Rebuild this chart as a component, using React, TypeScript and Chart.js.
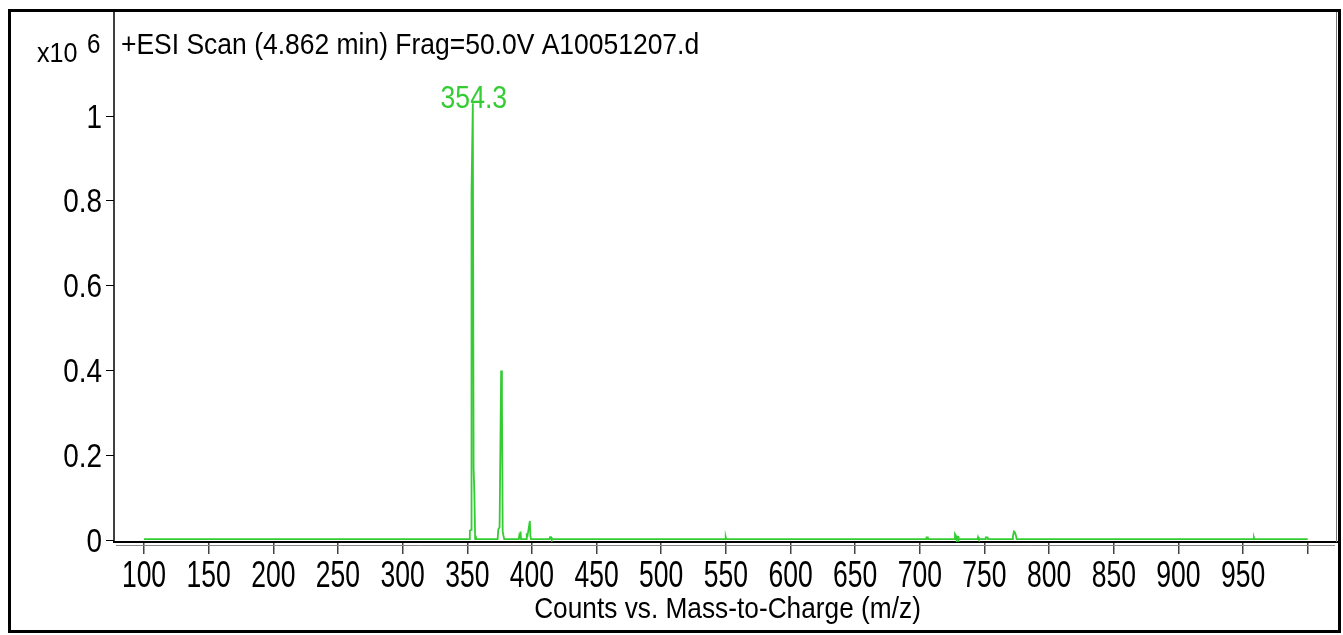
import React, { useEffect, useRef } from "react";
import { Chart, registerables } from "chart.js";

Chart.register(...registerables);

// m/z values and intensities (x10^6)
const mzValues: number[] = [
  100, 351.6, 352.0, 352.9, 353.3, 354.3, 354.9, 355.5, 356.1, 356.5, 357.0,
  373.5, 374.0, 375.0, 376.2, 376.8, 377.4, 378.0, 378.6,
  389.8, 390.2, 390.8, 391.2, 391.6, 395.6, 396.0, 396.6, 398.4, 398.8, 399.3,
  413.6, 414.0, 414.8, 415.2,
  549.6, 549.9, 550.3,
  704.8, 705.2, 706.2, 706.6,
  726.8, 727.2, 728.0, 728.6, 729.0, 729.6, 730.0,
  744.6, 745.0, 745.6, 750.6, 751.0, 752.4, 752.8,
  771.4, 772.0, 772.8, 773.5, 774.2, 774.9, 775.3,
  958.0, 958.4, 958.8,
  1000,
];
const intensityValues: number[] = [
  0.002, 0.002, 0.022, 0.024, 0.82, 1.03, 0.17, 0.11, 0.002, 0.01, 0.002,
  0.002, 0.025, 0.03, 0.4, 0.33, 0.02, 0.01, 0.002,
  0.002, 0.01, 0.004, 0.02, 0.002, 0.002, 0.012, 0.01, 0.045, 0.01, 0.002,
  0.002, 0.007, 0.007, 0.002,
  0.002, 0.007, 0.002,
  0.002, 0.006, 0.006, 0.002,
  0.002, 0.014, 0.01, 0.002, 0.008, 0.008, 0.002,
  0.002, 0.007, 0.002, 0.002, 0.006, 0.006, 0.002,
  0.002, 0.008, 0.02, 0.018, 0.012, 0.002, 0.002,
  0.002, 0.006, 0.002,
  0.002,
];

const xTickValues: number[] = [100, 150, 200, 250, 300, 350, 400, 450, 500, 550, 600, 650, 700, 750, 800, 850, 900, 950, 1000];
const xTickLabels: string[] = ["100", "150", "200", "250", "300", "350", "400", "450", "500", "550", "600", "650", "700", "750", "800", "850", "900", "950", ""];
const yTickValues: number[] = [0, 0.2, 0.4, 0.6, 0.8, 1];
const yTickLabels: string[] = ["0", "0.2", "0.4", "0.6", "0.8", "1"];

const titleText = "+ESI Scan (4.862 min) Frag=50.0V A10051207.d";
const xAxisTitle = "Counts vs. Mass-to-Charge (m/z)";
const peakLabel = "354.3";
const peakMz = 354.3;
const peakIntensity = 1.03;

const FONT = "'Liberation Sans', Arial, sans-serif";
const GREEN = "#33cc33";

// horizontal compression factor so that `sample` has ink width `inkW` at `size`
function fitK(ctx: CanvasRenderingContext2D, sample: string, size: number, inkW: number) {
  ctx.font = `${size}px ${FONT}`;
  const m = ctx.measureText(sample);
  const w = m.actualBoundingBoxLeft + m.actualBoundingBoxRight;
  return w > 0 ? inkW / w : 1;
}

function drawNarrow(
  ctx: CanvasRenderingContext2D,
  text: string,
  x: number,
  y: number,
  size: number,
  k: number,
  align: CanvasTextAlign,
  baseline: CanvasTextBaseline = "alphabetic",
) {
  ctx.save();
  ctx.font = `${size}px ${FONT}`;
  ctx.textAlign = align;
  ctx.textBaseline = baseline;
  ctx.translate(x, y);
  ctx.scale(k, 1);
  ctx.fillText(text, 0, 0);
  ctx.restore();
}

const decorPlugin = {
  id: "decor",
  afterDraw(chart: any) {
    const ctx = chart.ctx as CanvasRenderingContext2D;
    const ca = chart.chartArea;
    const xs = chart.scales.x;
    const ys = chart.scales.y;
    ctx.save();
    // outer frame
    ctx.strokeStyle = "#000";
    ctx.lineWidth = 3;
    ctx.strokeRect(9.5, 10.5, 1330, 621);
    // plot frame left
    ctx.lineWidth = 1.5;
    ctx.beginPath();
    ctx.moveTo(ca.left, 11);
    ctx.lineTo(ca.left, ca.bottom);
    ctx.stroke();
    // inner right line
    ctx.strokeStyle = "#777";
    ctx.lineWidth = 1;
    ctx.beginPath();
    ctx.moveTo(ca.right - 1.5, 12);
    ctx.lineTo(ca.right - 1.5, ca.bottom);
    ctx.stroke();
    // secondary gray axis line
    ctx.strokeStyle = "#888";
    ctx.beginPath();
    ctx.moveTo(ca.left + 2, ca.bottom + 3.5);
    ctx.lineTo(ca.right - 3, ca.bottom + 3.5);
    ctx.stroke();

    ctx.fillStyle = "#000";
    // x tick labels
    const kx = fitK(ctx, "100", 36, 42);
    xTickValues.forEach((v, i) => {
      const lbl = xTickLabels[i];
      if (!lbl) return;
      drawNarrow(ctx, lbl, xs.getPixelForValue(v), 587, 36, kx, "center");
    });
    // y tick labels
    const ky = fitK(ctx, "0.8", 32.5, 37);
    yTickValues.forEach((v, i) => {
      drawNarrow(ctx, yTickLabels[i], 102, ys.getPixelForValue(v) + 11.5, 32.5, ky, "right");
    });

    // title
    const kt = fitK(ctx, titleText, 29.5, 576);
    drawNarrow(ctx, titleText, 121, 54, 29.5, kt, "left");
    // x10^6
    const kx10 = fitK(ctx, "x10", 28, 40);
    drawNarrow(ctx, "x10", 37, 62, 28, kx10, "left");
    drawNarrow(ctx, "6", 87, 53, 27, kx10, "left");
    // x axis title
    const ka = fitK(ctx, xAxisTitle, 30, 385);
    drawNarrow(ctx, xAxisTitle, 727.5, 618, 30, ka, "center");

    // peak label
    ctx.fillStyle = GREEN;
    const kp = fitK(ctx, peakLabel, 32, 65);
    drawNarrow(ctx, peakLabel, xs.getPixelForValue(peakMz) + 1, ys.getPixelForValue(peakIntensity) + 5, 32, kp, "center");
    ctx.restore();
  },
};

export default function App() {
  const ref = useRef<HTMLCanvasElement>(null);
  useEffect(() => {
    if (!ref.current) return;
    const points = mzValues.map((x, i) => ({ x, y: intensityValues[i] }));
    const chart = new Chart(ref.current, {
      type: "line",
      data: {
        datasets: [
          {
            data: points,
            borderColor: GREEN,
            borderWidth: 1.8,
            pointRadius: 0,
            tension: 0,
            fill: false,
          },
        ],
      },
      options: {
        animation: false,
        responsive: false,
        devicePixelRatio: 1,
        layout: { padding: { left: 8, top: 10, right: 5, bottom: 0 } },
        plugins: { legend: { display: false }, tooltip: { enabled: false }, title: { display: false } },
        scales: {
          x: {
            type: "linear",
            min: 76.8,
            max: 1023.4,
            afterFit: (s: any) => { s.height = 93; s.paddingLeft = 0; s.paddingRight = 0; },
            afterBuildTicks: (s: any) => { s.ticks = xTickValues.map((v) => ({ value: v })); },
            grid: { drawOnChartArea: false, drawTicks: true, tickLength: 12, color: "#444", lineWidth: 1.5 },
            border: { display: true, color: "#000", width: 2 },
            ticks: { display: false, autoSkip: false, maxRotation: 0 },
          },
          y: {
            type: "linear",
            min: -0.0047,
            max: 1.25,
            afterFit: (s: any) => { s.width = 106; s.paddingTop = 0; s.paddingBottom = 0; },
            afterBuildTicks: (s: any) => { s.ticks = yTickValues.map((v) => ({ value: v })); },
            grid: { drawOnChartArea: false, drawTicks: true, tickLength: 8, color: "#000", lineWidth: 1 },
            border: { display: false },
            ticks: { display: false, autoSkip: false },
          },
        },
      },
      plugins: [decorPlugin],
    });
    return () => chart.destroy();
  }, []);
  return (
    <canvas
      ref={ref}
      width={1343}
      height={635}
      style={{ position: "absolute", left: 0, top: 0, width: 1343, height: 635, background: "#fff" }}
    />
  );
}
